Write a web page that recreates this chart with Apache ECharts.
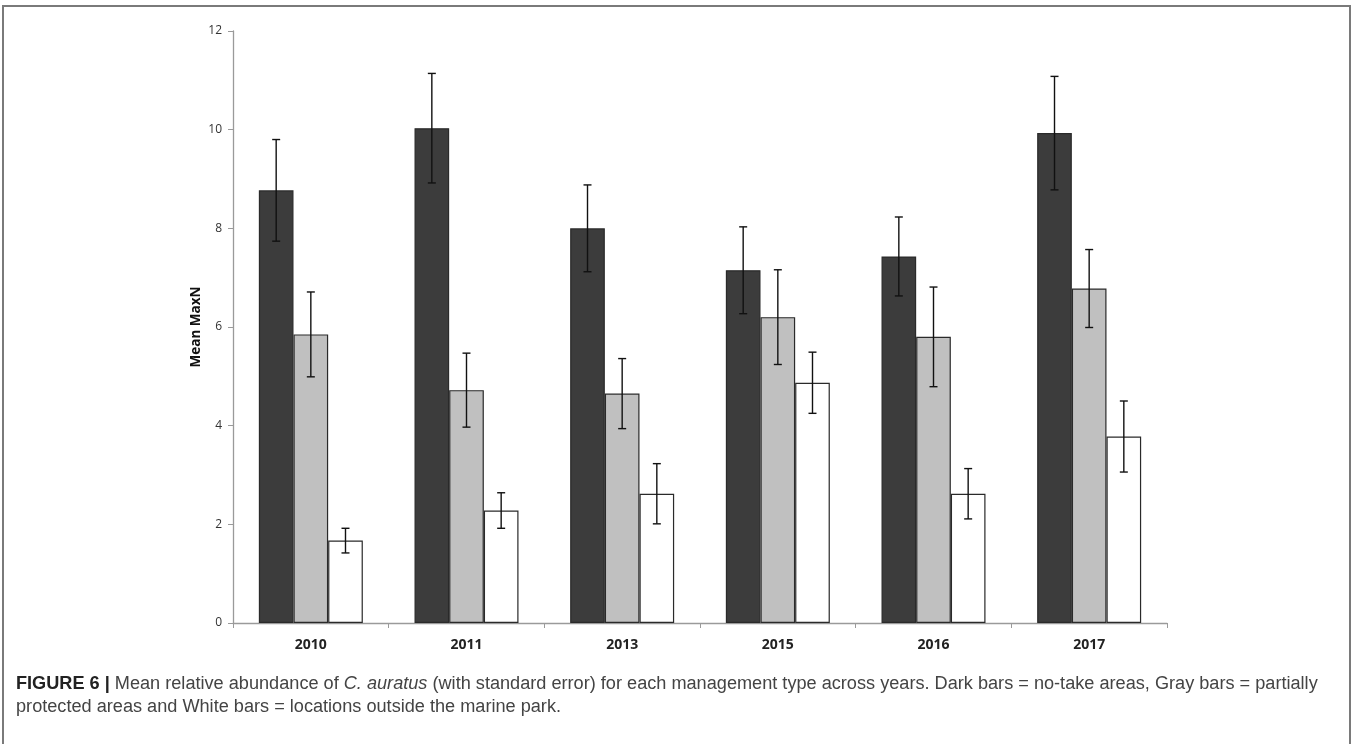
<!DOCTYPE html>
<html>
<head>
<meta charset="utf-8">
<script src="https://cdn.jsdelivr.net/npm/echarts@6/dist/echarts.min.js"></script>
<style>
  html, body { margin: 0; padding: 0; background: #fff; }
  #chart { width: 1352px; height: 744px; }
</style>
</head>
<body>
<div id="chart"></div>
<script>
// Survey years on the category axis
const years = ['2010', '2011', '2013', '2015', '2016', '2017'];

// Mean MaxN per management type
const noTakeMean   = [8.77, 10.03, 8.00, 7.15, 7.43, 9.93];
const partialMean  = [5.85, 4.72, 4.65, 6.20, 5.80, 6.78];
const outsideMean  = [1.67, 2.28, 2.62, 4.87, 2.62, 3.78];

// Standard errors
const noTakeSE  = [1.03, 1.11, 0.88, 0.88, 0.80, 1.15];
const partialSE = [0.86, 0.75, 0.71, 0.96, 1.01, 0.79];
const outsideSE = [0.25, 0.36, 0.61, 0.62, 0.51, 0.72];

// Y axis ticks
const yTicks = [0, 2, 4, 6, 8, 10, 12];

const captionLine1 = ['FIGURE 6 | ', 'Mean relative abundance of ', 'C. auratus', ' (with standard error) for each management type across years. Dark bars = no-take areas, Gray bars = partially'];
const captionLine2 = 'protected areas and White bars = locations outside the marine park.';

const groups = [
  { name: 'No-take', mean: noTakeMean, se: noTakeSE, fill: '#3c3c3c' },
  { name: 'Partially protected', mean: partialMean, se: partialSE, fill: '#c0c0c0' },
  { name: 'Outside park', mean: outsideMean, se: outsideSE, fill: '#ffffff' }
];

const CAT_GAP = 0.332;

const barSeries = groups.map(g => ({
  name: g.name,
  type: 'bar',
  data: g.mean,
  barGap: '0%',
  barCategoryGap: (CAT_GAP * 100) + '%',
  itemStyle: { color: g.fill, borderColor: '#2a2a2a', borderWidth: 1.2 },
  z: 2
}));

// Standard-error whiskers centred on each bar of the group
const errSeries = groups.map((g, gi) => ({
  name: g.name + ' SE',
  type: 'custom',
  z: 5,
  data: g.mean.map((m, i) => [i, m - g.se[i], m + g.se[i]]),
  renderItem: function (params, api) {
    const idx = api.value(0);
    const lo = api.coord([idx, api.value(1)]);
    const hi = api.coord([idx, api.value(2)]);
    const band = api.size([1, 0])[0];
    const bw = band * (1 - CAT_GAP) / 3;
    const x = lo[0] + (gi - 1) * bw;
    const cap = 4;
    const style = { stroke: '#111', lineWidth: 1.4 };
    return {
      type: 'group',
      children: [
        { type: 'line', shape: { x1: x, y1: lo[1], x2: x, y2: hi[1] }, style },
        { type: 'line', shape: { x1: x - cap, y1: hi[1], x2: x + cap, y2: hi[1] }, style },
        { type: 'line', shape: { x1: x - cap, y1: lo[1], x2: x + cap, y2: lo[1] }, style }
      ]
    };
  }
}));

const chart = echarts.init(document.getElementById('chart'), null, { renderer: 'canvas' });

const CAPTION_SIZE = 18.15;

chart.setOption({
  backgroundColor: '#fff',
  animation: false,
  grid: { left: 233, right: 185, top: 31, bottom: 121, containLabel: false },
  xAxis: {
    type: 'category',
    data: years,
    axisLine: { lineStyle: { color: '#9a9a9a', width: 1.3 } },
    axisTick: { show: true, length: 5, lineStyle: { color: '#9a9a9a' } },
    axisLabel: { color: '#222', fontSize: 14, fontWeight: 'bold', fontFamily: 'Open Sans', margin: 15 }
  },
  yAxis: {
    type: 'value',
    min: yTicks[0],
    max: yTicks[yTicks.length - 1],
    interval: 2,
    name: 'Mean MaxN',
    nameLocation: 'middle',
    nameGap: 30,
    nameMoveOverlap: false,
    nameTextStyle: { color: '#111', fontSize: 13.5, fontWeight: 'bold', fontFamily: 'Open Sans' },
    axisLine: { show: true, lineStyle: { color: '#9a9a9a', width: 1.3 } },
    axisTick: { show: true, length: 5, lineStyle: { color: '#9a9a9a' } },
    axisLabel: { color: '#333', fontSize: 12, fontFamily: 'Open Sans', margin: 11 },
    splitLine: { show: false }
  },
  series: [...barSeries, ...errSeries],
  graphic: [
    {
      type: 'rect',
      shape: { x: 3, y: 6, width: 1347, height: 745 },
      style: { fill: 'none', stroke: '#7a7a7a', lineWidth: 2 },
      silent: true
    },
    {
      type: 'text',
      left: 16,
      top: 675,
      style: {
        text: '{b|' + captionLine1[0] + '}{n|' + captionLine1[1] + '}{i|' + captionLine1[2] + '}{n|' + captionLine1[3] + '}',
        rich: {
          b: { fontFamily: 'Liberation Sans', fontSize: CAPTION_SIZE, fontWeight: 'bold', fill: '#222' },
          n: { fontFamily: 'Liberation Sans', fontSize: CAPTION_SIZE, fill: '#444' },
          i: { fontFamily: 'Liberation Sans', fontSize: CAPTION_SIZE, fontStyle: 'italic', fill: '#444' }
        }
      }
    },
    {
      type: 'text',
      left: 16,
      top: 698,
      style: {
        text: captionLine2,
        fontFamily: 'Liberation Sans',
        fontSize: CAPTION_SIZE,
        fill: '#444'
      }
    }
  ]
});
</script>
</body>
</html>
